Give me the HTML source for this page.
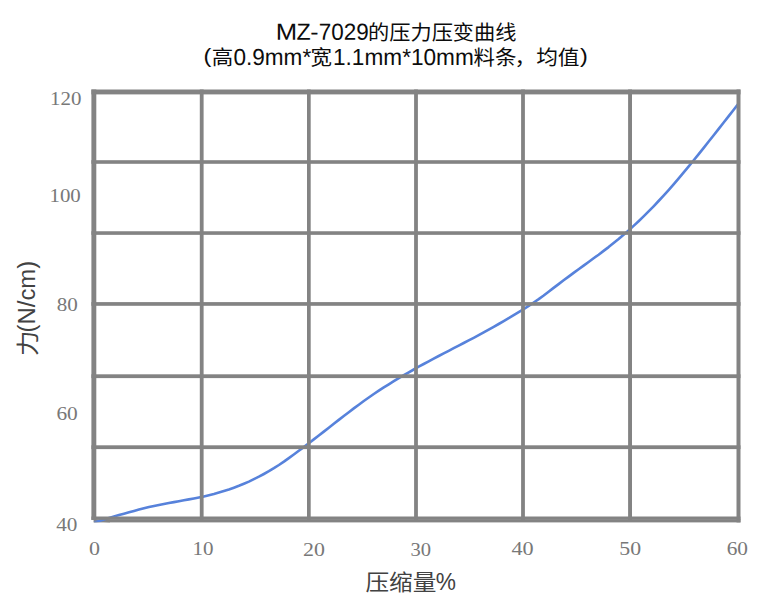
<!DOCTYPE html>
<html lang="zh-CN">
<head>
<meta charset="utf-8">
<title>MZ-7029的压力压变曲线</title>
<style>
html,body{margin:0;padding:0;background:#fff;}
body{width:767px;height:594px;overflow:hidden;}
svg{display:block;}
text{white-space:pre;}
.sans{font-family:"Liberation Sans","Noto Sans CJK SC",sans-serif;}
.serif{font-family:"Liberation Serif","Noto Serif CJK SC",serif;}
.tl{font-size:23.2px;fill:#0c0c0c;}
.tc{font-size:19.9px;fill:#0c0c0c;}
.tick{font-size:19px;fill:#787878;}
.tp{font-size:19.5px;fill:#0c0c0c;}
.axis{font-size:23px;fill:#424242;}
.axc{font-size:21.5px;fill:#424242;}
</style>
</head>
<body>
<svg width="767" height="594" viewBox="0 0 767 594">
<rect x="0" y="0" width="767" height="594" fill="#ffffff"/>
<rect x="93.7" y="519.60" width="646.80" height="2.80" fill="#838383"/>
<clipPath id="pc"><rect x="93.7" y="80" width="646" height="442.3"/></clipPath>
<path d="M94.0 522.2 L99.0 520.9 L104.0 519.4 L109.0 518.0 L114.0 516.6 L119.0 515.1 L124.0 513.7 L129.0 512.3 L134.0 510.9 L139.0 509.6 L144.0 508.3 L149.0 507.1 L154.0 506.0 L158.9 505.0 L163.9 504.0 L168.9 503.0 L173.9 502.1 L178.9 501.2 L183.9 500.3 L188.9 499.4 L193.9 498.5 L198.9 497.5 L203.9 496.4 L208.9 495.2 L213.9 494.0 L218.9 492.6 L223.9 491.1 L228.9 489.5 L233.9 487.7 L238.9 485.8 L243.9 483.7 L248.9 481.6 L253.9 479.2 L258.9 476.7 L263.9 474.0 L268.9 471.2 L273.9 468.2 L278.9 465.0 L283.9 461.6 L288.8 458.1 L293.8 454.5 L298.8 450.8 L303.8 447.1 L308.8 443.2 L313.8 439.4 L318.8 435.5 L323.8 431.6 L328.8 427.7 L333.8 423.8 L338.8 419.9 L343.8 416.0 L348.8 412.2 L353.8 408.4 L358.8 404.7 L363.8 401.0 L368.8 397.5 L373.8 394.0 L378.8 390.7 L383.8 387.4 L388.8 384.3 L393.8 381.2 L398.8 378.1 L403.8 375.2 L408.8 372.3 L413.8 369.5 L418.7 366.7 L423.7 364.0 L428.7 361.3 L433.7 358.6 L438.7 356.0 L443.7 353.4 L448.7 350.8 L453.7 348.2 L458.7 345.6 L463.7 343.0 L468.7 340.4 L473.7 337.8 L478.7 335.1 L483.7 332.4 L488.7 329.6 L493.7 326.8 L498.7 324.0 L503.7 321.1 L508.7 318.2 L513.7 315.2 L518.7 312.2 L523.7 309.1 L528.7 305.9 L533.7 302.5 L538.7 299.1 L543.7 295.5 L548.6 291.7 L553.6 287.9 L558.6 284.1 L563.6 280.3 L568.6 276.6 L573.6 272.9 L578.6 269.2 L583.6 265.6 L588.6 262.0 L593.6 258.3 L598.6 254.7 L603.6 250.9 L608.6 247.1 L613.6 243.1 L618.6 239.1 L623.6 234.8 L628.6 230.4 L633.6 225.9 L638.6 221.2 L643.6 216.4 L648.6 211.4 L653.6 206.3 L658.6 201.0 L663.6 195.6 L668.6 190.1 L673.6 184.4 L678.5 178.6 L683.5 172.6 L688.5 166.6 L693.5 160.5 L698.5 154.4 L703.5 148.1 L708.5 141.8 L713.5 135.5 L718.5 129.1 L723.5 122.8 L728.5 116.4 L733.5 110.0 L738.5 103.6" fill="none" stroke="#5782db" stroke-width="2.6" stroke-linecap="butt" stroke-linejoin="round" clip-path="url(#pc)"/>
<linearGradient id="dg" x1="93.7" x2="110" y1="0" y2="0" gradientUnits="userSpaceOnUse"><stop offset="0" stop-color="#838383" stop-opacity="0.6"/><stop offset="0.28" stop-color="#838383" stop-opacity="0"/><stop offset="0.6" stop-color="#838383" stop-opacity="0"/><stop offset="0.95" stop-color="#838383" stop-opacity="0.9"/></linearGradient>
<rect x="93.7" y="519.6" width="16.3" height="2.8" fill="url(#dg)"/>
<g fill="#838383">
<rect x="91.40" y="89.50" width="649.10" height="4.90"/>
<rect x="91.40" y="160.20" width="649.10" height="3.60"/>
<rect x="91.40" y="231.25" width="649.10" height="3.60"/>
<rect x="91.40" y="302.10" width="649.10" height="3.70"/>
<rect x="91.40" y="374.30" width="649.10" height="3.80"/>
<rect x="91.40" y="445.30" width="649.10" height="3.80"/>
<rect x="91.40" y="516.50" width="649.10" height="3.40"/>
<rect x="91.40" y="89.50" width="4.90" height="430.40"/>
<rect x="199.80" y="89.50" width="3.80" height="430.40"/>
<rect x="307.00" y="89.50" width="3.70" height="430.40"/>
<rect x="414.10" y="89.50" width="3.80" height="430.40"/>
<rect x="521.10" y="89.50" width="3.80" height="430.40"/>
<rect x="628.10" y="89.50" width="3.90" height="430.40"/>
<rect x="736.50" y="89.50" width="4.00" height="430.40"/>
<rect x="736.50" y="519.60" width="4.00" height="2.80"/>
</g>
<text class="sans"><tspan class="tl" x="275.7" y="39.8" textLength="21.4" lengthAdjust="spacingAndGlyphs" rotate="0.04">M</tspan><tspan class="tl" x="296.5" y="39.8" rotate="0.04">Z</tspan><tspan class="tl" x="310.2" y="39.8" textLength="8.3" lengthAdjust="spacingAndGlyphs" rotate="0.04">-</tspan><tspan class="tl" x="318.8" y="39.8" textLength="50.0" lengthAdjust="spacingAndGlyphs" rotate="0.04">7029</tspan><tspan class="tc" x="368.0" y="39.8" textLength="148.5" lengthAdjust="spacingAndGlyphs">的压力压变曲线</tspan></text>
<text class="sans"><tspan class="tp" x="203.6" y="63.4" textLength="7.8" lengthAdjust="spacingAndGlyphs">(</tspan><tspan class="tc" x="211.8" y="65.0" textLength="21.5" lengthAdjust="spacingAndGlyphs">高</tspan><tspan class="tl" x="233.4" y="65.0" textLength="77.8" lengthAdjust="spacingAndGlyphs" rotate="0.04">0.9mm*</tspan><tspan class="tc" x="310.4" y="65.0" textLength="21.5" lengthAdjust="spacingAndGlyphs">宽</tspan><tspan class="tl" x="333.0" y="65.0" textLength="140.8" lengthAdjust="spacingAndGlyphs" rotate="0.04">1.1mm*10mm</tspan><tspan class="tc" x="473.4" y="65.0" textLength="43.0" lengthAdjust="spacingAndGlyphs">料条</tspan><tspan class="tc" x="514.6" y="65.0" textLength="21.5" lengthAdjust="spacingAndGlyphs">，</tspan><tspan class="tc" x="536.2" y="65.0" textLength="43.3" lengthAdjust="spacingAndGlyphs">均值</tspan><tspan class="tp" x="580.0" y="63.4" textLength="7.8" lengthAdjust="spacingAndGlyphs">)</tspan></text>
<text class="serif tick" x="50.1" y="105.0" textLength="31.4" lengthAdjust="spacingAndGlyphs">120</text>
<text class="serif tick" x="49.5" y="201.5" textLength="31.3" lengthAdjust="spacingAndGlyphs">100</text>
<text class="serif tick" x="56.7" y="311.0" textLength="21.1" lengthAdjust="spacingAndGlyphs">80</text>
<text class="serif tick" x="56.4" y="420.4" textLength="21.4" lengthAdjust="spacingAndGlyphs">60</text>
<text class="serif tick" x="56.2" y="531.3" textLength="21.2" lengthAdjust="spacingAndGlyphs">40</text>
<text class="serif tick" x="88.9" y="555.0" textLength="11.0" lengthAdjust="spacingAndGlyphs">0</text>
<text class="serif tick" x="192.6" y="555.0" textLength="21.0" lengthAdjust="spacingAndGlyphs">10</text>
<text class="serif tick" x="303.0" y="556.2" textLength="21.9" lengthAdjust="spacingAndGlyphs">20</text>
<text class="serif tick" x="410.5" y="556.2" textLength="20.6" lengthAdjust="spacingAndGlyphs">30</text>
<text class="serif tick" x="511.4" y="555.0" textLength="22.2" lengthAdjust="spacingAndGlyphs">40</text>
<text class="serif tick" x="619.3" y="555.0" textLength="21.8" lengthAdjust="spacingAndGlyphs">50</text>
<text class="serif tick" x="726.7" y="555.0" textLength="21.3" lengthAdjust="spacingAndGlyphs">60</text>
<text class="sans"><tspan class="axc" x="365.4" y="589.6" textLength="71.0" lengthAdjust="spacingAndGlyphs">压缩量</tspan><tspan class="axis" x="435.8" y="590.3" textLength="20.2" lengthAdjust="spacingAndGlyphs">%</tspan></text>
<text class="sans" transform="translate(35.4 356.0) rotate(-90)"><tspan class="axis" x="0.0" y="0.8" textLength="25.4" lengthAdjust="spacingAndGlyphs">力</tspan><tspan class="axis" x="23.6" y="0.0" textLength="71.6" lengthAdjust="spacingAndGlyphs">(N/cm)</tspan></text>
</svg>
</body>
</html>
